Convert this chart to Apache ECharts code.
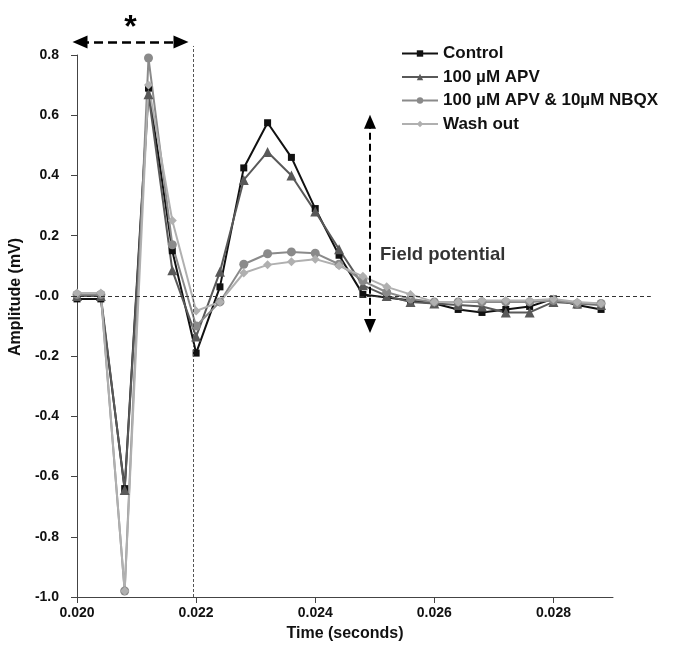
<!DOCTYPE html>
<html>
<head>
<meta charset="utf-8">
<script src="https://cdn.jsdelivr.net/npm/echarts@6/dist/echarts.min.js"></script>
<style>html,body{margin:0;padding:0;background:#fff}#c{width:689px;height:648px}</style>
</head>
<body>
<div id="c"></div>
<script>
// ---- data ----
var times = [0.0200,0.0204,0.0208,0.0212,0.0216,0.0220,0.0224,0.0228,0.0232,0.0236,0.0240,0.0244,0.0248,0.0252,0.0256,0.0260,0.0264,0.0268,0.0272,0.0276,0.0280,0.0284,0.0288];
var control = [-0.01,-0.01,-0.64,0.69,0.15,-0.19,0.03,0.425,0.575,0.46,0.29,0.135,0.005,-0.005,-0.015,-0.025,-0.045,-0.055,-0.045,-0.035,-0.01,-0.03,-0.045];
var apv     = [0.0,0.0,-0.645,0.67,0.085,-0.135,0.08,0.385,0.478,0.40,0.28,0.155,0.035,0.0,-0.02,-0.025,-0.03,-0.035,-0.055,-0.055,-0.02,-0.025,-0.03];
var nbqx    = [0.005,0.005,-0.98,0.79,0.17,-0.10,-0.02,0.105,0.14,0.146,0.142,0.105,0.05,0.012,-0.01,-0.02,-0.02,-0.02,-0.02,-0.02,-0.015,-0.025,-0.025];
var washout = [0.01,0.01,-0.98,0.70,0.25,-0.05,-0.02,0.076,0.103,0.113,0.122,0.10,0.065,0.03,0.005,-0.02,-0.02,-0.015,-0.015,-0.015,-0.01,-0.02,-0.025];
var seriesNames = ['Control','100 µM APV','100 µM APV & 10µM NBQX','Wash out'];
var xTickLabels = [0.020,0.022,0.024,0.026,0.028];
var yTickLabels = [-1.0,-0.8,-0.6,-0.4,-0.2,0.0,0.2,0.4,0.6,0.8];
var annotationText = {star:'*', field:'Field potential'};

function pairs(ys){ return times.map(function(t,i){ return [t, ys[i]]; }); }

var FONT = '"Liberation Sans", Arial, sans-serif';
// main grid geometry
var G = {left:73, top:55, width:540, height:542};
var xMin = 0.020, xMax = 0.029, yMin = -1.0, yMax = 0.8;
var pxX = G.width/(xMax-xMin), pxY = G.height/(yMax-yMin);
// overlay grid for annotations (same scale, larger area)
var G2 = {left:73, top:33, width:580, height:564};
var x2Max = xMin + G2.width/pxX, y2Max = yMin + G2.height/pxY;

var chart = echarts.init(document.getElementById('c'), null, {renderer:'canvas'});

var styles = [
  {color:'#111111', symbol:'rect', size:7},
  {color:'#595959', symbol:'triangle', size:10},
  {color:'#8a8a8a', symbol:'circle', size:9},
  {color:'#b0b0b0', symbol:'diamond', size:9}
];
var vals = [control, apv, nbqx, washout];
var dataSeries = [];
for (var k = 0; k < 4; k++) {
  dataSeries.push({
    name: seriesNames[k], type:'line', xAxisIndex:0, yAxisIndex:0,
    data: pairs(vals[k]), symbol: styles[k].symbol, symbolSize: styles[k].size,
    showSymbol:true, animation:false,
    itemStyle:{color: styles[k].color},
    lineStyle:{color: styles[k].color, width:2}
  });
}

var annot = {
  name:'annot', type:'scatter', xAxisIndex:1, yAxisIndex:1, animation:false,
  symbolSize:0, silent:true,
  data:[[0.02495, 0.135]],
  itemStyle:{color:'#000'},
  label:{show:true, position:'right', distance:10, formatter:annotationText.field,
         fontFamily:FONT, fontWeight:'bold', fontSize:18.5, color:'#000'},
  markLine:{
    silent:true, animation:false, precision:6,
    symbol:['none','none'],
    label:{show:false},
    data:[
      [{coord:[xMin,0], lineStyle:{type:[4,3], color:'#333', width:1}}, {coord:[0.02963,0]}],
      [{coord:[0.022,yMin], lineStyle:{type:[3,2], color:'#555', width:1}}, {coord:[0.022,0.83]}],
      [{coord:[0.020117,0.843], symbol:'triangle', symbolSize:[13,15],
        lineStyle:{type:[9,5], color:'#000', width:2.5},
        label:{show:true, position:'middle', formatter:annotationText.star, fontSize:32, fontWeight:'bold', fontFamily:FONT, color:'#000', distance:-2}},
       {coord:[0.02180,0.843], symbol:'triangle', symbolSize:[13,15]}],
      [{coord:[0.02495,0.578], symbol:'triangle', symbolSize:[12,14],
        lineStyle:{type:[7,4], color:'#000', width:2}},
       {coord:[0.02495,-0.10], symbol:'triangle', symbolSize:[12,14]}]
    ]
  }
};

chart.setOption({
  animation:false,
  backgroundColor:'#fff',
  textStyle:{fontFamily:FONT},
  grid:[
    {left:G.left, top:G.top, width:G.width, height:G.height, containLabel:false},
    {left:G2.left, top:G2.top, width:G2.width, height:G2.height, containLabel:false}
  ],
  legend:{
    data: seriesNames, orient:'vertical', left:401, top:45, padding:0,
    itemWidth:36, itemHeight:8, itemGap:6.5,
    textStyle:{fontFamily:FONT, fontSize:17, fontWeight:'bold', color:'#111', lineHeight:17}
  },
  xAxis:[
    {
      type:'value', gridIndex:0, min:xMin, max:xMax, interval:0.002,
      axisLine:{show:true, onZero:false, lineStyle:{color:'#444', width:1}},
      splitLine:{show:false},
      name:'Time (seconds)', nameLocation:'middle', nameGap:29,
      nameTextStyle:{fontFamily:FONT, fontWeight:'bold', fontSize:16, color:'#111'},
      axisTick:{show:true, length:6, lineStyle:{color:'#444'}, customValues:xTickLabels},
      axisLabel:{customValues:xTickLabels, margin:9, fontFamily:FONT, fontWeight:'bold', fontSize:14, color:'#111',
        formatter:function(v){ return v.toFixed(3); }}
    },
    {type:'value', gridIndex:1, min:xMin, max:x2Max, show:false}
  ],
  yAxis:[
    {
      type:'value', gridIndex:0, min:yMin, max:yMax, interval:0.2,
      axisLine:{show:true, onZero:false, lineStyle:{color:'#444', width:1}},
      splitLine:{show:false},
      name:'Amplitude (mV)', nameLocation:'middle', nameGap:52,
      nameTextStyle:{fontFamily:FONT, fontWeight:'bold', fontSize:16, color:'#111', padding:[0,0,0,58]},
      axisTick:{show:true, length:6, lineStyle:{color:'#444'}, customValues:yTickLabels},
      axisLabel:{customValues:yTickLabels, margin:18, fontFamily:FONT, fontWeight:'bold', fontSize:14, color:'#111',
        formatter:function(v){ var s=(Math.abs(v)<1e-9)?'-0.0':v.toFixed(1); return s; }}
    },
    {type:'value', gridIndex:1, min:yMin, max:y2Max, show:false}
  ],
  series:[annot].concat(dataSeries)
});
</script>
</body>
</html>
